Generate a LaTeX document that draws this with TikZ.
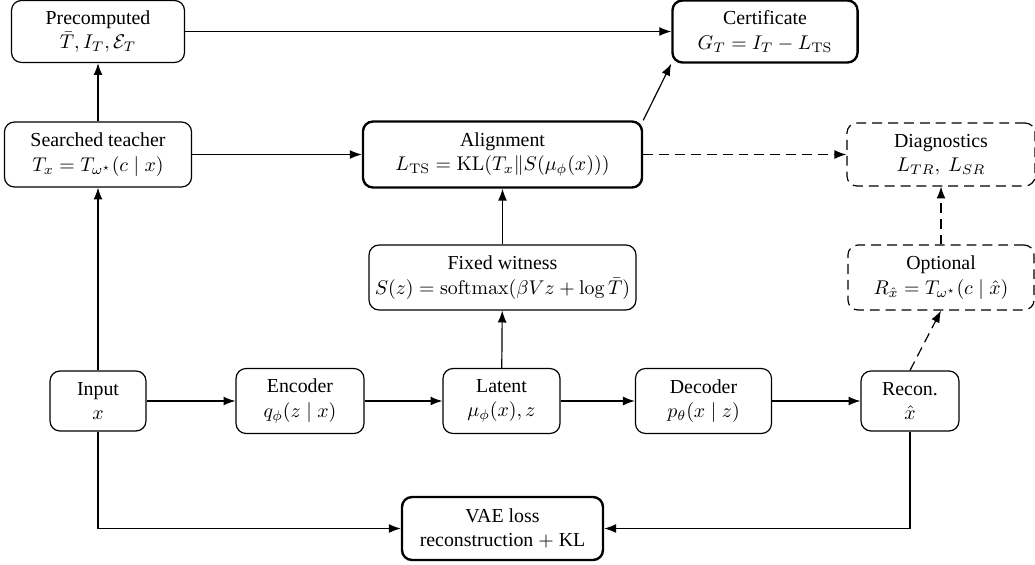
\documentclass[tikz,border=0pt]{standalone}
\usepackage[no-math]{fontspec}
\setmainfont{Liberation Serif}
\usetikzlibrary{arrows.meta}
\begin{document}
\begin{tikzpicture}[x=0.5035pt,y=-0.5035pt,
  box/.style={draw, rounded corners=5pt, line width=0.6pt, align=center, inner sep=2pt, font=\fontsize{10}{12.2}\selectfont},
  thickbox/.style={box, line width=1.2pt},
  dbox/.style={box, dash pattern=on 5pt off 3pt},
  arr/.style={-{Latex[length=6pt,width=4.5pt]}, line width=0.6pt},
  darr/.style={arr, dash pattern=on 5pt off 3pt}]
\useasboundingbox (0,0) rectangle (1035,565);

\node[box, minimum width=87.1pt, minimum height=31.2pt] (pre) at (98,31.5) {Precomputed\\ $\bar T, I_T, \mathcal{E}_T$};
\node[thickbox, minimum width=93.2pt, minimum height=31.2pt] (cert) at (765,31.5) {Certificate\\ $G_T = I_T - L_{\mathrm{TS}}$};

\node[box, minimum width=94.2pt, minimum height=32.7pt] (teach) at (98,154.5) {Searched teacher\\ $T_x = T_{\omega^\star}(c \mid x)$};
\node[thickbox, minimum width=140.5pt, minimum height=33.2pt] (align) at (502.5,154.5) {Alignment\\ $L_{\mathrm{TS}} = \mathrm{KL}(T_x \| S(\mu_\phi(x)))$};
\node[dbox, minimum width=94.7pt, minimum height=31.7pt] (diag) at (941,154.5) {Diagnostics\\ $L_{TR},\ L_{SR}$};

\node[box, minimum width=134.4pt, minimum height=32.7pt] (wit) at (502.5,277.5) {Fixed witness\\ $S(z) = \mathrm{softmax}(\beta V z + \log \bar T)$};
\node[dbox, minimum width=93.7pt, minimum height=32.7pt] (opt) at (941,277.5) {Optional\\ $R_{\hat x} = T_{\omega^\star}(c \mid \hat x)$};

\node[box, minimum width=48.3pt, minimum height=30.2pt] (input) at (98,401) {Input\\ $x$};
\node[box, minimum width=64.4pt, minimum height=32.7pt] (enc) at (300,401) {Encoder\\ $q_\phi(z \mid x)$};
\node[box, minimum width=58.9pt, minimum height=32.7pt] (lat) at (501.5,401) {Latent\\ $\mu_\phi(x), z$};
\node[box, minimum width=68.5pt, minimum height=32.7pt] (dec) at (703.5,401) {Decoder\\ $p_\theta(x \mid z)$};
\node[box, minimum width=49.3pt, minimum height=30.2pt] (rec) at (910,401) {Recon.\\ $\hat x$};

\node[thickbox, minimum width=101.2pt, minimum height=31.7pt] (vae) at (502.5,528.5) {VAE loss\\ reconstruction $+$ KL};

\draw[arr] (input) -- (teach);
\draw[arr] (teach) -- (pre);
\draw[arr] (pre) -- (cert);
\draw[arr] (teach) -- (align);
\draw[arr] (align.north east) -- (cert.south west);
\draw[darr] (align) -- (diag);
\draw[arr] (wit) -- (align);
\draw[arr] (lat) -- (wit);
\draw[arr] (input) -- (enc);
\draw[arr] (enc) -- (lat);
\draw[arr] (lat) -- (dec);
\draw[arr] (dec) -- (rec);
\draw[darr] (rec.north) -- (opt.south);
\draw[darr] (opt) -- (diag);
\draw[arr] (input) |- (vae);
\draw[arr] (rec) |- (vae);
\end{tikzpicture}
\end{document}
